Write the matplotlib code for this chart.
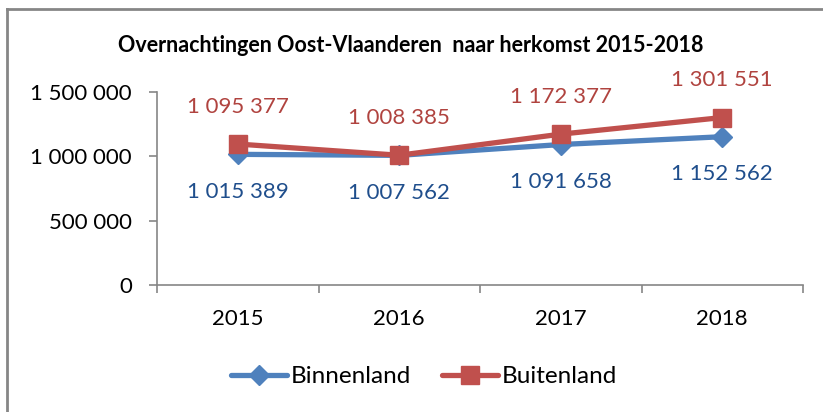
import matplotlib.pyplot as plt
from matplotlib.lines import Line2D
from matplotlib.ticker import FuncFormatter, FixedLocator

# --- data ---
jaren = ['2015', '2016', '2017', '2018']
binnenland = [1015389, 1007562, 1091658, 1152562]
buitenland = [1095377, 1008385, 1172377, 1301551]

BLAUW = '#4F81BD'
ROOD = '#C0504D'
BLAUW_TXT = '#1F4E8C'
ROOD_TXT = '#B0433F'
GRIJS = '#868686'

plt.rcParams['font.family'] = ['Lato', 'DejaVu Sans']


def spatie(v, pos=None):
    return f'{int(v):,}'.replace(',', ' ')


fig = plt.figure(figsize=(8.23, 4.12), dpi=100)
ax = fig.add_axes([0.1908, 0.3083, 0.7849, 0.4684])

x = list(range(len(jaren)))
ax.plot(x, binnenland, color=BLAUW, lw=3.8, marker='D', ms=10,
        solid_capstyle='round', label='Binnenland', zorder=3)
ax.plot(x, buitenland, color=ROOD, lw=3.8, marker='s', ms=12.5,
        solid_capstyle='round', label='Buitenland', zorder=4)

for xi, v in zip(x, binnenland):
    ax.annotate(spatie(v), (xi, v), xytext=(0, -27), textcoords='offset points',
                ha='center', va='center', fontsize=16, color=BLAUW_TXT)
for xi, v in zip(x, buitenland):
    ax.annotate(spatie(v), (xi, v), xytext=(0, 27), textcoords='offset points',
                ha='center', va='center', fontsize=16, color=ROOD_TXT)

ax.set_xlim(-0.5, len(jaren) - 0.5)
ax.set_ylim(0, 1500000)
ax.set_yticks([0, 500000, 1000000, 1500000])
ax.yaxis.set_major_formatter(FuncFormatter(spatie))
ax.set_xticks(x)
ax.set_xticklabels(jaren)
ax.xaxis.set_minor_locator(FixedLocator([i - 0.5 for i in range(len(jaren) + 1)]))
ax.tick_params(axis='x', which='major', length=0, pad=17, labelsize=16)
ax.tick_params(axis='x', which='minor', length=6, color=GRIJS, width=1.2)
ax.tick_params(axis='y', length=6, color=GRIJS, width=1.2, pad=12, labelsize=16)

for s in ['top', 'right']:
    ax.spines[s].set_visible(False)
for s in ['left', 'bottom']:
    ax.spines[s].set_color(GRIJS)
    ax.spines[s].set_linewidth(1.2)

fig.text(0.4994, 0.889, 'Overnachtingen Oost-Vlaanderen  naar herkomst 2015-2018',
         ha='center', va='center', fontsize=15.5, fontweight='bold')

fig.legend(loc='center', bbox_to_anchor=(0.515, 0.085), ncol=2, frameon=False,
           fontsize=17.5, handlelength=2.3, handletextpad=0.15, columnspacing=1.3)

# rand van de grafiek (alleen boven en links zichtbaar)
fig.add_artist(Line2D([0.0091, 0.0091], [0, 0.979], transform=fig.transFigure,
                      color=GRIJS, lw=2))
fig.add_artist(Line2D([0.0091, 1.0], [0.979, 0.979], transform=fig.transFigure,
                      color=GRIJS, lw=2))

fig.savefig('out.png', dpi=100)
